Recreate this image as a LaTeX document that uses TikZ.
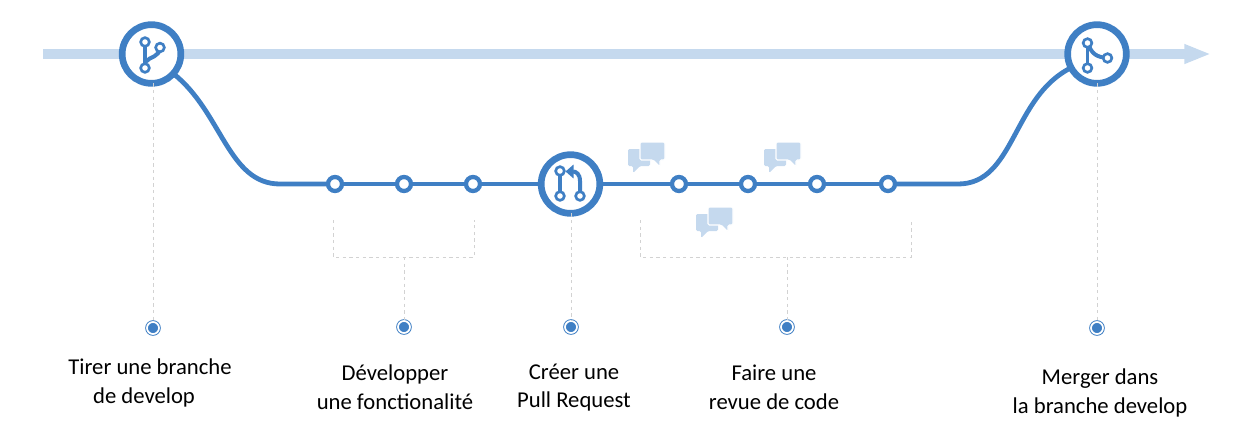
\documentclass[tikz,border=0pt]{standalone}
\usepackage{fontspec}
\setmainfont{Carlito}
\usetikzlibrary{positioning}
\usetikzlibrary{arrows.meta}
\usetikzlibrary{backgrounds}
\definecolor{flowblue}{HTML}{3F7FC4}
\definecolor{paleblue}{HTML}{C5D9EE}
\definecolor{guidegrey}{HTML}{D2D2D2}
\tikzset{flow/.style = {draw=flowblue,line width=3.6pt}}
\tikzset{guide/.style = {draw=guidegrey,line width=.7pt,dash pattern=on 2.5pt off 2.5pt}}
\tikzset{pics/chat/.style = {code={
            \fill[paleblue,rounded corners=1pt] (0,7) -- (22,7) -- (22,24) -- (12,24) -- (5,31) -- (5,24) -- (0,24) -- cycle;
            \path[fill=paleblue,draw=white,line width=.8pt,rounded corners=1pt] (12,0) -- (37,0) -- (37,18) -- (32,18) -- (32,25) -- (25,18) -- (12,18) -- cycle;
        }}}

\begin{document}
\begin{tikzpicture}[x=.75pt,y=-.75pt,node distance=51.75pt,
        main node/.style={circle,draw=flowblue,fill=white,line width=5pt,inner sep=0pt,outer sep=0pt,minimum size=44pt},
        commit node/.style={circle,draw=flowblue,fill=white,line width=3.2pt,inner sep=0pt,outer sep=0pt,minimum size=10.5pt},
        icon node/.style={circle,draw=flowblue,fill=white,line width=2pt,inner sep=0pt,outer sep=0pt,minimum size=6.5pt},
        target node/.style={circle,draw=flowblue,fill=flowblue,line width=.7pt,double=white,double distance=1.3pt,inner sep=0pt,outer sep=0pt,minimum size=9pt},
        step text/.style={align=center,font=\fontsize{17}{21.5}\selectfont}]
            \useasboundingbox (0,0) rectangle (1239,444);
            \coordinate (start) at (43,54);
            \coordinate (end) at (1211,54);
            \coordinate (low1) at (280,184);
            \coordinate (low2) at (958,184);
            \node[main node] (branch) at (151.5,54) {};
            \node[main node] (merge) at (1097,54) {};
            \node[main node] (pull) at (570.5,184) {};
            \node[commit node] (1) at (335,184) {};
            \node[commit node] (2) [right of=1] {};
            \node[commit node] (3) [right of=2] {};
            \node[commit node] (4) at (679,184) {};
            \node[commit node] (5) [right of=4] {};
            \node[commit node] (6) [right of=5] {};
            \node[commit node] (7) at (888,184) {};
            \node[target node] (t1) at (153,328) {};
            \node[target node] (t2) at (404,327) {};
            \node[target node] (t3) at (571,327) {};
            \node[target node] (t4) at (787,327) {};
            \node[target node] (t5) at (1097,328) {};
            \coordinate (b1) at (333,220);
            \coordinate (b2) at (333,257);
            \coordinate (b3) at (474,257);
            \coordinate (b4) at (474,220);
            \coordinate (b5) at (404,257);
            \coordinate (r1) at (640,220);
            \coordinate (r2) at (640,257);
            \coordinate (r3) at (911,257);
            \coordinate (r4) at (911,220);
            \coordinate (r5) at (787,257);
            \begin{scope}[on background layer]
                \path[draw=paleblue,line width=7.5pt] (start) -- (branch.center) -- (merge.center);
                \path[draw=paleblue,line width=7.5pt,-{Triangle[length=20pt,width=13.5pt]}] (merge.center) -- (end);
                \path[flow] (branch.center) -- (branch.-42) .. controls (222,112) and (228,184) .. (low1) -- (1);
                \path[flow] (7) -- (low2) .. controls (1015,184) and (1012,97) .. (merge.-152) -- (merge.center);
            \end{scope}
            \path[flow] (1) -- (2);
            \path[flow] (2) -- (3);
            \path[flow] (3) -- (pull);
            \path[flow] (pull) -- (4);
            \path[flow] (4) -- (5);
            \path[flow] (5) -- (6);
            \path[flow] (6) -- (7);
            \path[guide] (t1 |- branch.south) -- (t1);
            \path[guide] (t3 |- pull.south) -- (t3);
            \path[guide] (t5 |- merge.south) -- (t5);
            \path[guide] (b1) -- (b2) -- (b3) -- (b4);
            \path[guide] (b5) -- (t2);
            \path[guide] (r1) -- (r2) -- (r3) -- (r4);
            \path[guide] (r5) -- (t4);
            \pic at (628,142) {chat};
            \pic at (696,207) {chat};
            \pic at (764,142) {chat};
            \path[draw=flowblue,line width=3pt] (160,47.5) .. controls (159,58) and (150,56) .. (145.5,62);
            \path[draw=flowblue,line width=2.4pt] (145,42) -- (145,68);
            \node[icon node] (a1) at (145,42) {};
            \node[icon node] (a2) at (160,47.5) {};
            \node[icon node] (a3) at (145,68) {};
            \path[draw=flowblue,line width=2.4pt] (1087.5,43) -- (1087.5,68);
            \path[draw=flowblue,line width=3pt] (1087.5,43) .. controls (1092,54) and (1096,57) .. (1107.5,58);
            \node[icon node] (m1) at (1087.5,43) {};
            \node[icon node] (m2) at (1087.5,68) {};
            \node[icon node] (m3) at (1107.5,58) {};
            \node[icon node] (p1) at (560,171) {};
            \node[icon node] (p2) at (560,196) {};
            \node[icon node] (p3) at (580,196) {};
            \coordinate (p4) at (565.5,171.5);
            \path[draw=flowblue,line width=2.4pt] (p1) -- (p2);
            \path[draw=flowblue,line width=3pt,-{Triangle[length=6pt,width=10pt]}] (p3) -- (580,181) .. controls (580,174) and (576,171.5) .. (p4);
            \node[step text] (s1) at (150,383) {Tirer une branche\\de develop\hspace*{9pt}};
            \node[step text] (s2) at (395,387.5) {Développer\\une fonctionalité};
            \node[step text] (s3) at (574,387.5) {Créer une\\Pull Request};
            \node[step text] (s4) at (774,387.5) {Faire une\\revue de code};
            \node[step text] (s5) at (1100,393) {Merger dans\\la branche develop};
        \end{tikzpicture}
\end{document}
